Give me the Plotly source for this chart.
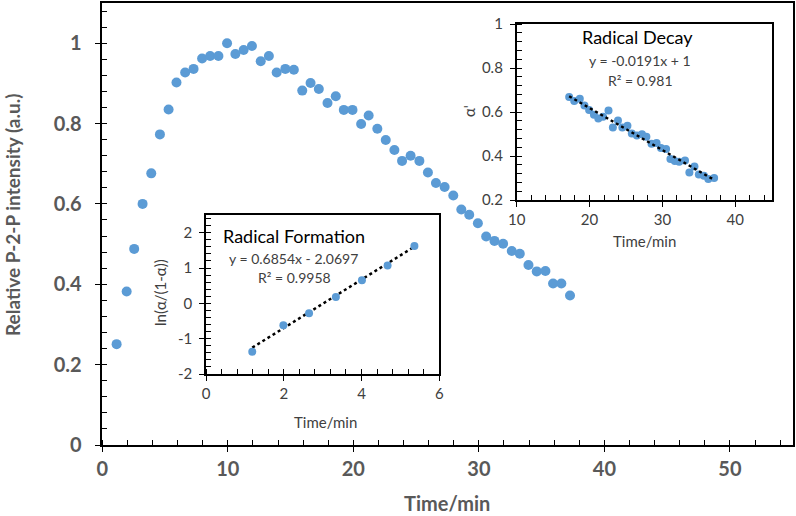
import plotly.graph_objects as go

# ---------------- data ----------------
main_t = [1.14, 1.94, 2.54, 3.21, 3.90, 4.59, 5.28, 5.91, 6.60, 7.27, 7.95, 8.59,
          9.25, 9.94, 10.60, 11.26, 11.92, 12.62, 13.27, 13.89, 14.58, 15.26,
          15.93, 16.59, 17.25, 17.94, 18.60, 19.24, 19.93, 20.62, 21.22, 21.91,
          22.58, 23.27, 23.88, 24.56, 25.26, 25.94, 26.58, 27.27, 27.96, 28.60,
          29.23, 29.92, 30.58, 31.24, 31.93, 32.62, 33.26, 33.95, 34.61, 35.30,
          35.91, 36.57, 37.26]
main_y = [0.251, 0.382, 0.488, 0.600, 0.676, 0.773, 0.835, 0.902, 0.927, 0.936,
          0.962, 0.968, 0.968, 1.000, 0.973, 0.983, 0.993, 0.955, 0.968, 0.927,
          0.936, 0.934, 0.882, 0.901, 0.886, 0.851, 0.868, 0.834, 0.834, 0.799,
          0.820, 0.787, 0.759, 0.734, 0.707, 0.720, 0.707, 0.678, 0.652, 0.642,
          0.621, 0.586, 0.573, 0.552, 0.519, 0.508, 0.501, 0.483, 0.476, 0.448,
          0.432, 0.433, 0.402, 0.402, 0.372]

form_t = [1.19, 1.99, 2.65, 3.34, 4.01, 4.67, 5.36]
form_y = [-1.37, -0.62, -0.28, 0.18, 0.65, 1.07, 1.62]
form_slope, form_icpt = 0.6854, -2.0697

decay_t = [17.2, 17.9, 18.66, 19.3, 19.94, 20.6, 21.2, 21.85, 22.6, 23.2, 23.9,
           24.5, 25.2, 25.8, 26.5, 27.2, 27.8, 28.5, 29.2, 29.8, 30.5, 31.1,
           31.7, 32.3, 33.1, 33.7, 34.4, 35.0, 35.7, 36.3, 37.1]
decay_y = [0.668, 0.650, 0.660, 0.630, 0.609, 0.587, 0.570, 0.578, 0.607, 0.530,
           0.561, 0.530, 0.538, 0.502, 0.493, 0.499, 0.487, 0.456, 0.459, 0.436,
           0.432, 0.386, 0.377, 0.374, 0.380, 0.325, 0.352, 0.316, 0.310, 0.295,
           0.300]
decay_slope, decay_icpt = -0.0191, 1.0

main_xticks = [0, 10, 20, 30, 40, 50]
main_yticks = [0, 0.2, 0.4, 0.6, 0.8, 1]
form_xticks = [0, 2, 4, 6]
form_yticks = [-2, -1, 0, 1, 2]
decay_xticks = [10, 20, 30, 40]
decay_yticks = [0.2, 0.4, 0.6, 0.8, 1]

# ---------------- style ----------------
W, H = 796, 516
BLUE = "#5B9BD5"
GRAY = "#595959"
DARK = "#404040"
FONT = "Lato"
NB = "\u00a0"


def px(x):
    return x / W


def py(y):
    return 1 - y / H


def axis(rng, dom, anchor, ticks, minor_dt, tfont, pad="", lw=2):
    return dict(
        range=rng, domain=dom, anchor=anchor, automargin=False,
        tickvals=ticks, ticktext=[("%g" % v) + pad for v in ticks],
        ticks="outside", ticklen=5, tickwidth=1.3, tickcolor="black",
        minor=dict(dtick=minor_dt, ticks="inside", ticklen=5, tickwidth=1.3,
                   tickcolor="black", showgrid=False),
        showline=True, linecolor="black", linewidth=lw, mirror=True,
        showgrid=False, zeroline=False, tickfont=tfont, fixedrange=True,
    )


main_tf = dict(family=FONT, size=20, color=GRAY, weight="bold")
inset_tf = dict(family=FONT, size=15, color=DARK)

fig = go.Figure()

fig.add_trace(go.Scatter(x=main_t, y=main_y, mode="markers",
                         marker=dict(color=BLUE, size=10),
                         xaxis="x", yaxis="y"))

fx = [form_t[0], form_t[-1]]
fig.add_trace(go.Scatter(x=fx, y=[form_slope * v + form_icpt for v in fx],
                         mode="lines", line=dict(color="black", width=2.5, dash="dot"),
                         xaxis="x2", yaxis="y2"))
fig.add_trace(go.Scatter(x=form_t, y=form_y, mode="markers",
                         marker=dict(color=BLUE, size=8),
                         xaxis="x2", yaxis="y2"))

dx = [decay_t[0], decay_t[-1]]
fig.add_trace(go.Scatter(x=decay_t, y=decay_y, mode="markers",
                         marker=dict(color=BLUE, size=8),
                         xaxis="x3", yaxis="y3"))
fig.add_trace(go.Scatter(x=dx, y=[decay_slope * v + decay_icpt for v in dx],
                         mode="lines", line=dict(color="black", width=2.5, dash="dot"),
                         xaxis="x3", yaxis="y3"))

fig.update_layout(
    width=W, height=H,
    margin=dict(l=0, r=0, t=0, b=0, autoexpand=False),
    paper_bgcolor="white", plot_bgcolor="white",
    showlegend=False, hovermode=False,
    font=dict(family=FONT),
    xaxis=axis([0, 55], [px(102.3), px(792.7)], "y", main_xticks, 2, main_tf),
    yaxis=axis([0, 1.1], [py(445), py(3)], "x", main_yticks, 0.04, main_tf, NB * 2),
    xaxis2=axis([0, 6], [px(206), px(439.3)], "y2", form_xticks, 0.4, inset_tf),
    yaxis2=axis([-2, 2.5], [py(374), py(215)], "x2", form_yticks, 0.2, inset_tf, NB),
    xaxis3=axis([10, 45], [px(516.7), px(771.7)], "y3", decay_xticks, 2, inset_tf),
    yaxis3=axis([0.2, 1], [py(200), py(24)], "x3", decay_yticks, 0.04, inset_tf, NB),
)

ann = [
    # main titles
    dict(text="Time/min", x=px(447), y=py(503),
         font=dict(family=FONT, size=20, color=GRAY, weight="bold")),
    dict(text="Relative P-2-P intensity (a.u.)", x=px(12), y=py(215), textangle=-90,
         font=dict(family=FONT, size=19, color=GRAY, weight="bold")),
    # inset 1
    dict(text="Radical Formation", x=px(294), y=py(236),
         font=dict(family=FONT, size=18, color="black")),
    dict(text="y = 0.6854x - 2.0697", x=px(293), y=py(258),
         font=dict(family=FONT, size=14, color=DARK)),
    dict(text="R² = 0.9958", x=px(294), y=py(277),
         font=dict(family=FONT, size=14, color=DARK)),
    dict(text="Time/min", x=px(325), y=py(422),
         font=dict(family=FONT, size=15, color=DARK)),
    dict(text="ln(α/(1-α))", x=px(160), y=py(293), textangle=-90,
         font=dict(family=FONT, size=15, color=DARK)),
    # inset 2
    dict(text="Radical Decay", x=px(637), y=py(37),
         font=dict(family=FONT, size=18, color="black")),
    dict(text="y = -0.0191x + 1", x=px(640), y=py(61),
         font=dict(family=FONT, size=14, color=DARK)),
    dict(text="R² = 0.981", x=px(640), y=py(80),
         font=dict(family=FONT, size=14, color=DARK)),
    dict(text="Time/min", x=px(644), y=py(241),
         font=dict(family=FONT, size=15, color=DARK)),
    dict(text="α'", x=px(469), y=py(111), textangle=-90,
         font=dict(family=FONT, size=15, color=DARK)),
]
for a in ann:
    a.update(xref="paper", yref="paper", showarrow=False,
             xanchor="center", yanchor="middle")
fig.update_layout(annotations=ann)

fig.write_html("out.html",
               config={"displayModeBar": False},
               post_script="document.body.style.margin='0';"
                           "document.body.style.overflow='hidden';")
